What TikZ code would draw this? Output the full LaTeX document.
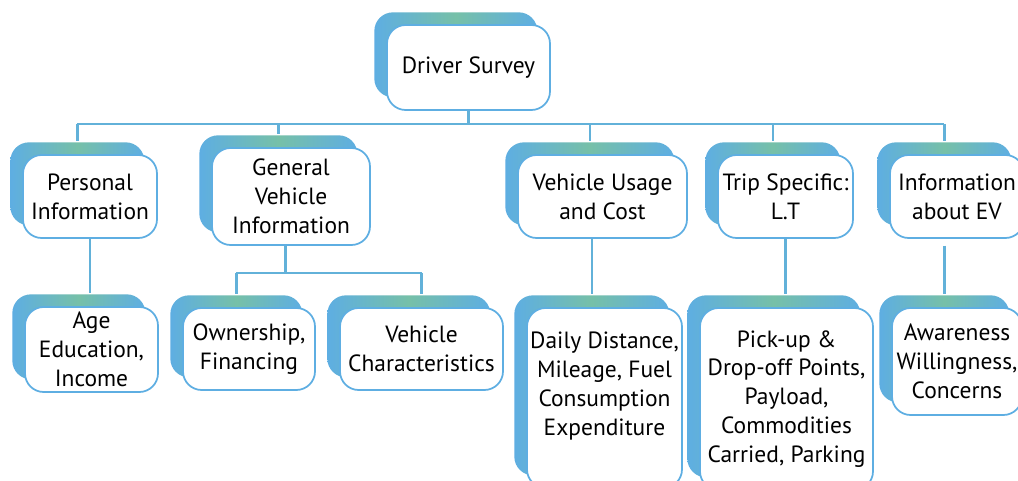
\documentclass[tikz,border=0pt]{standalone}
\usepackage{fontspec}
\setmainfont{PT Sans}
\usetikzlibrary{shadows}
\definecolor{boxblue}{RGB}{94,174,226}
\definecolor{boxgreen}{RGB}{118,192,168}

\begin{document}
\begin{tikzpicture}[x=0.75pt,y=-0.75pt,
				wh/.style 2 args={minimum width=#1*0.75pt,minimum height=#2*0.75pt},
				box/.style={draw=boxblue,line width=1.3pt,fill=white,rounded corners=14pt,
					align=center,inner sep=0pt,font=\fontsize{17.6}{21.7}\selectfont,
					copy shadow={shadow xshift=-9.5pt,shadow yshift=9.5pt,draw=none,
						left color=boxblue,right color=boxblue,middle color=boxgreen}},
				link/.style={draw=boxblue!85!boxgreen,line width=2pt}]
				\path[use as bounding box] (0,0) rectangle (1018,481);
				\clip (0,0) rectangle (1018,481);
				% top level
				\node[box,wh={163}{85}]  (drv)   at (468.5,67.5) {Driver Survey};
				% second level
				\node[box,wh={134}{83}]  (pers)  at (90,196.5)   {Personal\\ Information};
				\node[box,wh={158}{97}]  (gen)   at (291,196.5)  {General\\ Vehicle\\ Information};
				\node[box,wh={169}{83}]  (use)   at (602.5,196.5) {Vehicle Usage\\ and Cost};
				\node[box,wh={135}{83}]  (trip)  at (785.5,196.5) {Trip Specific:\\ L.T};
				\node[box,wh={134}{83}]  (ev)    at (957,196.5)  {Information\\ about EV};
				% third level
				\node[box,wh={133}{85}]  (age)   at (91.5,349.5) {Age\\ Education,\\ Income};
				\node[box,wh={132}{82}]  (own)   at (249,349)    {Ownership,\\ Financing};
				\node[box,wh={163}{82}]  (char)  at (421.5,349)  {Vehicle\\ Characteristics};
				\node[box,wh={155}{180}] (daily) at (604.5,398)  {Daily Distance,\\ Mileage, Fuel\\ Consumption\\ Expenditure\\ ~};
				\node[box,wh={173}{182}] (pick)  at (786.5,399)  {Pick-up \&\\ Drop-off Points,\\ Payload,\\ Commodities\\ Carried, Parking};
				\node[box,wh={130}{107}] (aware) at (957,361.5)  {Awareness\\ Willingness,\\ Concerns};

				\coordinate (bus) at (0,124);
				\coordinate (sub) at (0,273);
				\foreach \n in {pers,gen,use,trip,ev,age,own,char,daily,pick,aware}
					\path ([shift={(-9.5pt,9.5pt)}]\n.north) coordinate (\n-in);

				\draw[link] (drv.south) -- (drv.south |- bus);
				\draw[link] (pers-in |- bus) -- (ev-in |- bus);
				\foreach \n in {pers,gen,use,trip,ev}
					\draw[link] (\n-in |- bus) -- (\n-in);

				\draw[link] (pers.south) -- (pers.south |- age-in);
				\draw[link] ([xshift=-4pt]gen.south) -- ([xshift=-4pt]gen.south |- sub);
				\draw[link] (own-in |- sub) -- (char.north |- sub);
				\draw[link] (own-in |- sub) -- (own-in);
				\draw[link] (char.north |- sub) -- (char.north |- char-in);
				\draw[link] (use.south -| daily-in) -- (daily-in);
				\draw[link] (trip.south) -- (trip.south |- pick-in);
				\draw[link] ([yshift=-5pt]aware-in |- ev.south) -- (aware-in);
			\end{tikzpicture}
\end{document}
